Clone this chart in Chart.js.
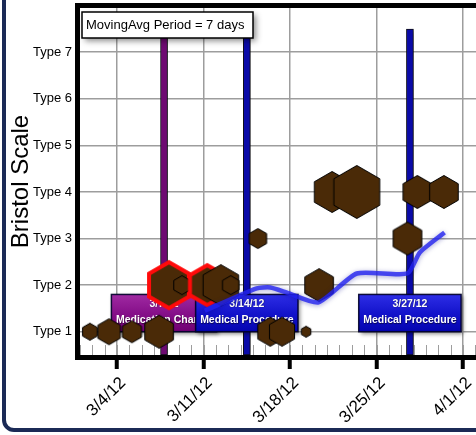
<!doctype html>
<html>
<head>
<meta charset="utf-8">
<script src="https://cdn.jsdelivr.net/npm/chart.js@4.4.1/dist/chart.umd.min.js"></script>
<style>
html, body { margin: 0; padding: 0; background: #fff; overflow: hidden; width: 476px; height: 435px; }
#frame { position: absolute; left: 2px; top: -40px; width: 600px; height: 472px; box-sizing: border-box;
         border: 4px solid #1b2a56; border-radius: 12px; }
#wrap { position: absolute; left: 0; top: 0; width: 490px; height: 435px; }
</style>
<script>
// x values are days of March 2012 (4/1 = 32)
const weekTicks = [4, 11, 18, 25, 32];
const weekLabels = ['3/4/12', '3/11/12', '3/18/12', '3/25/12', '4/1/12'];
const typeTicks = [1, 2, 3, 4, 5, 6, 7];
const typeLabels = ['Type 1', 'Type 2', 'Type 3', 'Type 4', 'Type 5', 'Type 6', 'Type 7'];

// stool entries (hexagons)
const hexDays    = [1.8, 3.35, 5.2, 7.4, 8.2, 9.25, 11.3, 12.4, 13.2, 15.4, 16.4, 17.35, 19.3, 20.35, 21.4, 23.4, 27.5, 28.3, 30.45];
const hexTypes   = [1, 1, 1, 1, 2, 2, 2, 2, 2, 3, 1, 1, 1, 2, 4, 4, 3, 4, 4];
const hexSizes   = [9, 13.5, 11.5, 17, 25, 10, 22, 21, 10, 10.5, 15, 15, 6, 17, 21, 27, 17, 17, 17];
const hexFlagged = [false, false, false, false, true, false, true, false, false, false, false, false, false, false, false, false, false, false, false];

// 7 day moving average
const maDays   = [11.1, 15.3, 16.4, 17.75, 20.3, 23.4, 27.5, 28.5, 30.5];
const maValues = [1.45, 1.93, 1.95, 1.84, 1.63, 2.25, 2.25, 2.7, 3.13];

// events
const eventDays   = [7.8, 14.5, 27.7];
const eventDates  = ['3/7/12', '3/14/12', '3/27/12'];
const eventKinds  = ['Medication Change', 'Medical Procedure', 'Medical Procedure'];
const eventColors = ['#6e0a72', '#0a0aa8', '#0a0aa8'];
const eventFills  = [['#a02aa2', '#86108a', '#700072'], ['#2e2ee6', '#1414cc', '#0404b0']];

const FONT = 'Arial, "Liberation Sans", Helvetica, sans-serif';

const hexCache = {};
function hexImage(r, flagged) {
    const key = r + '_' + flagged;
    if (hexCache[key]) return hexCache[key];
    const c = document.createElement('canvas');
    const s = Math.ceil(2 * r + 6);
    c.width = s; c.height = s;
    const g = c.getContext('2d');
    const rr = flagged ? r - 2 : r - 0.5;
    g.beginPath();
    for (let k = 0; k < 6; k++) {
        const a = Math.PI / 2 + k * Math.PI / 3;
        const px = s / 2 + rr * Math.cos(a), py = s / 2 - rr * Math.sin(a);
        if (k === 0) g.moveTo(px, py); else g.lineTo(px, py);
    }
    g.closePath();
    g.fillStyle = '#4a2a07';
    g.fill();
    g.lineJoin = 'miter';
    g.strokeStyle = flagged ? '#ff0a0a' : '#000';
    g.lineWidth = flagged ? 4 : 1;
    g.stroke();
    hexCache[key] = c;
    return c;
}

function drawBoxes(chart) {
    const {ctx, scales: {x, y}} = chart;
    ctx.save();
    ctx.font = 'bold 10.5px ' + FONT;
    eventDays.forEach((d, i) => {
        const cx = x.getPixelForValue(d);
        const w = Math.max(ctx.measureText(eventKinds[i]).width, ctx.measureText(eventDates[i]).width) + 9;
        const top = y.getPixelForValue(1.8), bot = y.getPixelForValue(1.0);
        const left = cx - w / 2;
        const cols = eventKinds[i] === 'Medication Change' ? eventFills[0] : eventFills[1];
        const grd = ctx.createLinearGradient(0, top, 0, bot);
        grd.addColorStop(0, cols[0]); grd.addColorStop(0.5, cols[1]); grd.addColorStop(1, cols[2]);
        ctx.save();
        ctx.shadowColor = 'rgba(0,0,0,0.45)'; ctx.shadowBlur = 4; ctx.shadowOffsetX = 2; ctx.shadowOffsetY = 2;
        ctx.fillStyle = grd;
        ctx.fillRect(left, top, w, bot - top);
        ctx.restore();
        ctx.strokeStyle = 'rgba(0,0,40,0.9)';
        ctx.lineWidth = 1.5;
        ctx.strokeRect(left, top, w, bot - top);
        ctx.fillStyle = '#fff';
        ctx.textAlign = 'center';
        ctx.textBaseline = 'middle';
        ctx.shadowColor = 'rgba(0,0,0,0.6)'; ctx.shadowBlur = 1; ctx.shadowOffsetX = 0.5; ctx.shadowOffsetY = 0.5;
        ctx.fillText(eventDates[i], cx, top + 9.5);
        ctx.fillText(eventKinds[i], cx, top + 26);
        ctx.shadowColor = 'transparent';
    });
    ctx.restore();
}

function noPad(s) {
    s.paddingTop = 0; s.paddingBottom = 0; s.paddingLeft = 0; s.paddingRight = 0;
}

const deco = {
    id: 'deco',
    beforeDatasetsDraw(chart) {
        // daily minor ticks along the bottom
        const {ctx, chartArea: a, scales: {x}} = chart;
        ctx.save();
        ctx.strokeStyle = '#9d9d9d';
        ctx.lineWidth = 1;
        for (let d = Math.ceil(x.min); d <= x.max; d++) {
            const px = Math.round(x.getPixelForValue(d)) + 0.5;
            ctx.beginPath(); ctx.moveTo(px, a.bottom); ctx.lineTo(px, a.bottom - 10); ctx.stroke();
        }
        ctx.restore();
    },
    beforeDatasetDraw(chart, args) {
        const ds = chart.data.datasets[args.index];
        const ctx = chart.ctx;
        ctx.save();
        if (ds.type === 'bar') {
            ctx.shadowColor = 'rgba(0,0,0,0.55)'; ctx.shadowBlur = 6; ctx.shadowOffsetX = 4; ctx.shadowOffsetY = 1;
        } else if (ds.type === 'line') {
            ctx.shadowColor = 'rgba(0,0,140,0.45)'; ctx.shadowBlur = 5; ctx.shadowOffsetX = 0; ctx.shadowOffsetY = 1;
        }
    },
    afterDatasetDraw(chart, args) {
        chart.ctx.restore();
        if (chart.data.datasets[args.index].type === 'bar') drawBoxes(chart);
    },
    afterDraw(chart) {
        const {ctx, chartArea: a} = chart;
        ctx.save();
        ctx.strokeStyle = '#000';
        ctx.lineWidth = 5;
        ctx.strokeRect(a.left - 2.5, a.top - 2.5, a.right - a.left + 5, a.bottom - a.top + 5);
        // moving average note
        const bx = a.left + 2, by = a.top + 4, bw = 171, bh = 26;
        ctx.save();
        ctx.shadowColor = 'rgba(0,0,0,0.45)'; ctx.shadowBlur = 6; ctx.shadowOffsetX = 3; ctx.shadowOffsetY = 3;
        ctx.fillStyle = '#fff';
        ctx.fillRect(bx, by, bw, bh);
        ctx.restore();
        ctx.lineWidth = 1.5;
        ctx.strokeRect(bx, by, bw, bh);
        ctx.fillStyle = '#000';
        ctx.font = '13px ' + FONT;
        ctx.textBaseline = 'middle';
        ctx.fillText('MovingAvg Period = 7 days', bx + 4, by + bh / 2 + 0.5);
        ctx.restore();
    }
};

function start() {
    const ctx = document.getElementById('chart').getContext('2d');
    new Chart(ctx, {
        type: 'bubble',
        data: {
            datasets: [
                {
                    type: 'bar',
                    order: 3,
                    data: eventDays.map((d) => ({x: d, y: [0.5, 7.5]})),
                    backgroundColor: eventColors,
                    borderColor: '#10101a',
                    borderWidth: 1,
                    borderSkipped: false,
                    barThickness: 7,
                    grouped: false
                },
                {
                    type: 'bubble',
                    order: 2,
                    data: hexDays.map((d, i) => ({x: d, y: hexTypes[i], r: hexSizes[i]})),
                    pointStyle: (c) => hexImage(c.raw.r, hexFlagged[c.dataIndex]),
                    backgroundColor: '#4a2a07'
                },
                {
                    type: 'line',
                    order: 1,
                    data: maDays.map((d, i) => ({x: d, y: maValues[i]})),
                    borderColor: 'rgba(35,35,240,0.8)',
                    borderWidth: 4.5,
                    pointRadius: 0,
                    tension: 0.2,
                    fill: false
                }
            ]
        },
        options: {
            responsive: false,
            animation: false,
            events: [],
            layout: {autoPadding: false, padding: {top: 8, right: 12, left: 0, bottom: 0}},
            plugins: {legend: {display: false}, tooltip: {enabled: false}},
            scales: {
                x: {
                    type: 'linear',
                    min: 1,
                    max: 33.21,
                    offset: false,
                    afterBuildTicks: (s) => { s.ticks = weekTicks.map((v) => ({value: v})); },
                    afterFit: (s) => { s.height = 80; noPad(s); },
                    border: {display: false},
                    grid: {color: '#9d9d9d', lineWidth: 1.5, offset: false, tickColor: '#000', tickWidth: 4, tickLength: 14},
                    ticks: {
                        autoSkip: false,
                        minRotation: 45,
                        maxRotation: 45,
                        padding: 4,
                        labelOffset: 6,
                        color: '#000',
                        font: {family: FONT, size: 17},
                        callback: (v, i) => weekLabels[i]
                    }
                },
                y: {
                    type: 'linear',
                    min: 0.5,
                    max: 7.95,
                    beginAtZero: false,
                    afterBuildTicks: (s) => { s.ticks = typeTicks.map((v) => ({value: v})); },
                    afterFit: (s) => { s.width = 80; noPad(s); },
                    border: {display: false},
                    grid: {color: '#9d9d9d', lineWidth: 1.5, drawTicks: false},
                    title: {display: true, text: 'Bristol Scale', color: '#000', font: {family: FONT, size: 24}, padding: {top: 7, bottom: 0}},
                    ticks: {
                        padding: 8,
                        color: '#000',
                        font: {family: FONT, size: 13},
                        callback: (v, i) => typeLabels[i]
                    }
                }
            }
        },
        plugins: [deco]
    });
}
</script>
</head>
<body onload="start()">
<div id="frame"></div>
<div id="wrap"><canvas id="chart" width="490" height="435"></canvas></div>
</body>
</html>
